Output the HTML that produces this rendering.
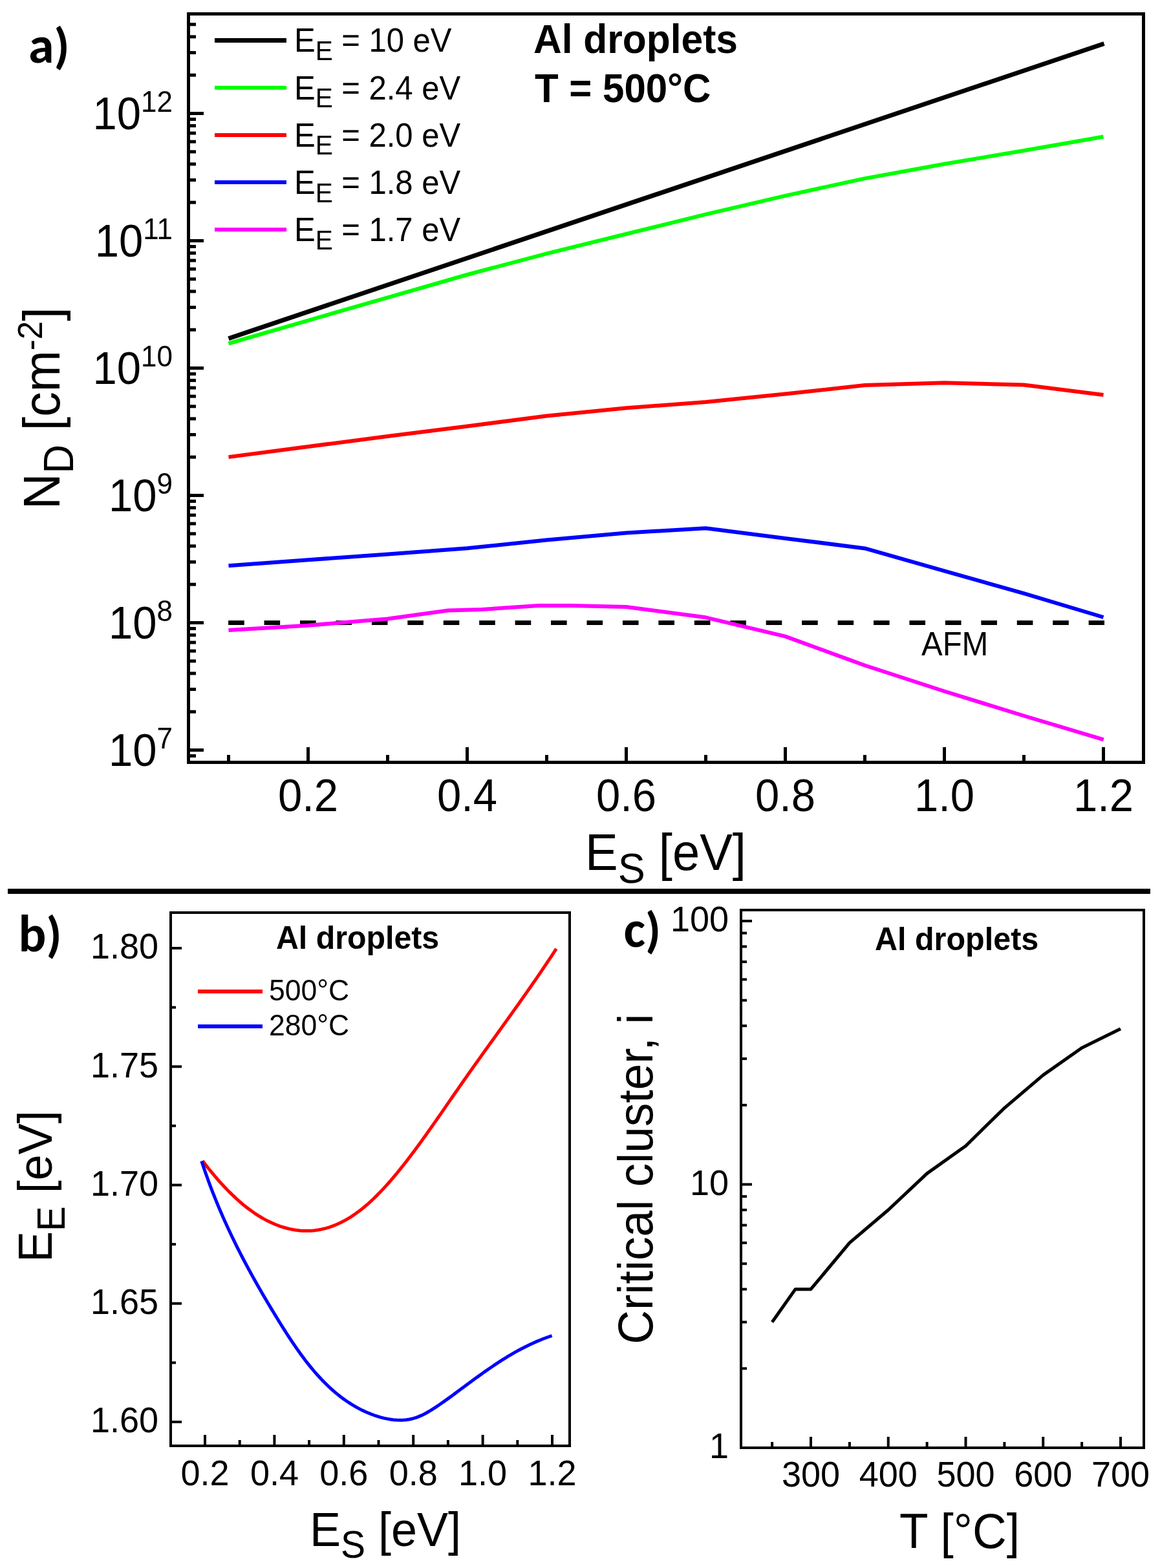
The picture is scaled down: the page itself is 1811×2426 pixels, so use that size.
<!DOCTYPE html>
<html><head><meta charset="utf-8"><title>Al droplets nucleation</title>
<style>html,body{margin:0;padding:0;background:#fff}svg{display:block}</style></head>
<body><svg width="1811" height="2426" viewBox="0 0 1811 2426">
<rect x="0" y="0" width="1811" height="2426" fill="#fff"/>
<rect x="291.5" y="21.5" width="1477.0" height="1158.0" fill="none" stroke="#000" stroke-width="5"/>
<line x1="291.50" y1="1169.51" x2="303.00" y2="1169.51" stroke="#000" stroke-width="5"/>
<line x1="291.50" y1="1160.50" x2="315.00" y2="1160.50" stroke="#000" stroke-width="5"/>
<line x1="291.50" y1="1101.20" x2="303.00" y2="1101.20" stroke="#000" stroke-width="5"/>
<line x1="291.50" y1="1066.51" x2="303.00" y2="1066.51" stroke="#000" stroke-width="5"/>
<line x1="291.50" y1="1041.89" x2="303.00" y2="1041.89" stroke="#000" stroke-width="5"/>
<line x1="291.50" y1="1022.80" x2="303.00" y2="1022.80" stroke="#000" stroke-width="5"/>
<line x1="291.50" y1="1007.20" x2="303.00" y2="1007.20" stroke="#000" stroke-width="5"/>
<line x1="291.50" y1="994.02" x2="303.00" y2="994.02" stroke="#000" stroke-width="5"/>
<line x1="291.50" y1="982.59" x2="303.00" y2="982.59" stroke="#000" stroke-width="5"/>
<line x1="291.50" y1="972.51" x2="303.00" y2="972.51" stroke="#000" stroke-width="5"/>
<line x1="291.50" y1="963.50" x2="315.00" y2="963.50" stroke="#000" stroke-width="5"/>
<line x1="291.50" y1="904.20" x2="303.00" y2="904.20" stroke="#000" stroke-width="5"/>
<line x1="291.50" y1="869.51" x2="303.00" y2="869.51" stroke="#000" stroke-width="5"/>
<line x1="291.50" y1="844.89" x2="303.00" y2="844.89" stroke="#000" stroke-width="5"/>
<line x1="291.50" y1="825.80" x2="303.00" y2="825.80" stroke="#000" stroke-width="5"/>
<line x1="291.50" y1="810.20" x2="303.00" y2="810.20" stroke="#000" stroke-width="5"/>
<line x1="291.50" y1="797.02" x2="303.00" y2="797.02" stroke="#000" stroke-width="5"/>
<line x1="291.50" y1="785.59" x2="303.00" y2="785.59" stroke="#000" stroke-width="5"/>
<line x1="291.50" y1="775.51" x2="303.00" y2="775.51" stroke="#000" stroke-width="5"/>
<line x1="291.50" y1="766.50" x2="315.00" y2="766.50" stroke="#000" stroke-width="5"/>
<line x1="291.50" y1="707.20" x2="303.00" y2="707.20" stroke="#000" stroke-width="5"/>
<line x1="291.50" y1="672.51" x2="303.00" y2="672.51" stroke="#000" stroke-width="5"/>
<line x1="291.50" y1="647.89" x2="303.00" y2="647.89" stroke="#000" stroke-width="5"/>
<line x1="291.50" y1="628.80" x2="303.00" y2="628.80" stroke="#000" stroke-width="5"/>
<line x1="291.50" y1="613.20" x2="303.00" y2="613.20" stroke="#000" stroke-width="5"/>
<line x1="291.50" y1="600.02" x2="303.00" y2="600.02" stroke="#000" stroke-width="5"/>
<line x1="291.50" y1="588.59" x2="303.00" y2="588.59" stroke="#000" stroke-width="5"/>
<line x1="291.50" y1="578.51" x2="303.00" y2="578.51" stroke="#000" stroke-width="5"/>
<line x1="291.50" y1="569.50" x2="315.00" y2="569.50" stroke="#000" stroke-width="5"/>
<line x1="291.50" y1="510.20" x2="303.00" y2="510.20" stroke="#000" stroke-width="5"/>
<line x1="291.50" y1="475.51" x2="303.00" y2="475.51" stroke="#000" stroke-width="5"/>
<line x1="291.50" y1="450.89" x2="303.00" y2="450.89" stroke="#000" stroke-width="5"/>
<line x1="291.50" y1="431.80" x2="303.00" y2="431.80" stroke="#000" stroke-width="5"/>
<line x1="291.50" y1="416.20" x2="303.00" y2="416.20" stroke="#000" stroke-width="5"/>
<line x1="291.50" y1="403.02" x2="303.00" y2="403.02" stroke="#000" stroke-width="5"/>
<line x1="291.50" y1="391.59" x2="303.00" y2="391.59" stroke="#000" stroke-width="5"/>
<line x1="291.50" y1="381.51" x2="303.00" y2="381.51" stroke="#000" stroke-width="5"/>
<line x1="291.50" y1="372.50" x2="315.00" y2="372.50" stroke="#000" stroke-width="5"/>
<line x1="291.50" y1="313.20" x2="303.00" y2="313.20" stroke="#000" stroke-width="5"/>
<line x1="291.50" y1="278.51" x2="303.00" y2="278.51" stroke="#000" stroke-width="5"/>
<line x1="291.50" y1="253.89" x2="303.00" y2="253.89" stroke="#000" stroke-width="5"/>
<line x1="291.50" y1="234.80" x2="303.00" y2="234.80" stroke="#000" stroke-width="5"/>
<line x1="291.50" y1="219.20" x2="303.00" y2="219.20" stroke="#000" stroke-width="5"/>
<line x1="291.50" y1="206.02" x2="303.00" y2="206.02" stroke="#000" stroke-width="5"/>
<line x1="291.50" y1="194.59" x2="303.00" y2="194.59" stroke="#000" stroke-width="5"/>
<line x1="291.50" y1="184.51" x2="303.00" y2="184.51" stroke="#000" stroke-width="5"/>
<line x1="291.50" y1="175.50" x2="315.00" y2="175.50" stroke="#000" stroke-width="5"/>
<line x1="291.50" y1="116.20" x2="303.00" y2="116.20" stroke="#000" stroke-width="5"/>
<line x1="291.50" y1="81.51" x2="303.00" y2="81.51" stroke="#000" stroke-width="5"/>
<line x1="291.50" y1="56.89" x2="303.00" y2="56.89" stroke="#000" stroke-width="5"/>
<line x1="291.50" y1="37.80" x2="303.00" y2="37.80" stroke="#000" stroke-width="5"/>
<line x1="353.50" y1="1179.50" x2="353.50" y2="1168.00" stroke="#000" stroke-width="5"/>
<line x1="476.50" y1="1179.50" x2="476.50" y2="1156.00" stroke="#000" stroke-width="5"/>
<line x1="599.50" y1="1179.50" x2="599.50" y2="1168.00" stroke="#000" stroke-width="5"/>
<line x1="722.50" y1="1179.50" x2="722.50" y2="1156.00" stroke="#000" stroke-width="5"/>
<line x1="845.50" y1="1179.50" x2="845.50" y2="1168.00" stroke="#000" stroke-width="5"/>
<line x1="968.50" y1="1179.50" x2="968.50" y2="1156.00" stroke="#000" stroke-width="5"/>
<line x1="1091.50" y1="1179.50" x2="1091.50" y2="1168.00" stroke="#000" stroke-width="5"/>
<line x1="1214.50" y1="1179.50" x2="1214.50" y2="1156.00" stroke="#000" stroke-width="5"/>
<line x1="1337.50" y1="1179.50" x2="1337.50" y2="1168.00" stroke="#000" stroke-width="5"/>
<line x1="1460.50" y1="1179.50" x2="1460.50" y2="1156.00" stroke="#000" stroke-width="5"/>
<line x1="1583.50" y1="1179.50" x2="1583.50" y2="1168.00" stroke="#000" stroke-width="5"/>
<line x1="1706.50" y1="1179.50" x2="1706.50" y2="1156.00" stroke="#000" stroke-width="5"/>
<text transform="translate(476.50,1255.00) scale(1,1.04)" font-family='"Liberation Sans", Arial, Helvetica, sans-serif' font-size="67" text-anchor="middle">0.2</text>
<text transform="translate(722.50,1255.00) scale(1,1.04)" font-family='"Liberation Sans", Arial, Helvetica, sans-serif' font-size="67" text-anchor="middle">0.4</text>
<text transform="translate(968.50,1255.00) scale(1,1.04)" font-family='"Liberation Sans", Arial, Helvetica, sans-serif' font-size="67" text-anchor="middle">0.6</text>
<text transform="translate(1214.50,1255.00) scale(1,1.04)" font-family='"Liberation Sans", Arial, Helvetica, sans-serif' font-size="67" text-anchor="middle">0.8</text>
<text transform="translate(1460.50,1255.00) scale(1,1.04)" font-family='"Liberation Sans", Arial, Helvetica, sans-serif' font-size="67" text-anchor="middle">1.0</text>
<text transform="translate(1706.50,1255.00) scale(1,1.04)" font-family='"Liberation Sans", Arial, Helvetica, sans-serif' font-size="67" text-anchor="middle">1.2</text>
<text transform="translate(267.00,1184.70) scale(1,1.04)" font-family='"Liberation Sans", Arial, Helvetica, sans-serif' font-size="67" text-anchor="end">10<tspan dy="-25.96" font-size="44">7</tspan></text>
<text transform="translate(267.00,987.70) scale(1,1.04)" font-family='"Liberation Sans", Arial, Helvetica, sans-serif' font-size="67" text-anchor="end">10<tspan dy="-25.96" font-size="44">8</tspan></text>
<text transform="translate(267.00,790.70) scale(1,1.04)" font-family='"Liberation Sans", Arial, Helvetica, sans-serif' font-size="67" text-anchor="end">10<tspan dy="-25.96" font-size="44">9</tspan></text>
<text transform="translate(267.00,593.70) scale(1,1.04)" font-family='"Liberation Sans", Arial, Helvetica, sans-serif' font-size="67" text-anchor="end">10<tspan dy="-25.96" font-size="44">10</tspan></text>
<text transform="translate(267.00,396.70) scale(1,1.04)" font-family='"Liberation Sans", Arial, Helvetica, sans-serif' font-size="67" text-anchor="end">10<tspan dy="-25.96" font-size="44">11</tspan></text>
<text transform="translate(267.00,199.70) scale(1,1.04)" font-family='"Liberation Sans", Arial, Helvetica, sans-serif' font-size="67" text-anchor="end">10<tspan dy="-25.96" font-size="44">12</tspan></text>
<text transform="translate(905.00,1346.00) scale(1,1.04)" font-family='"Liberation Sans", Arial, Helvetica, sans-serif' font-size="76">E<tspan dy="19.23" font-size="63">S</tspan><tspan dy="-19.23"> [eV]</tspan></text>
<text transform="translate(91.90,788.00) rotate(-90) scale(1,1.04)" font-family='"Liberation Sans", Arial, Helvetica, sans-serif' font-size="77">N<tspan dy="20.19" font-size="62">D</tspan><tspan dy="-20.19"> [cm</tspan><tspan dy="-25.96" font-size="51">-2</tspan><tspan dy="25.96">]</tspan></text>
<text transform="translate(44.00,97.00)" font-family='Carlito, "Liberation Sans", sans-serif' font-size="80" font-weight="bold">a<tspan font-size="77">)</tspan></text>
<text transform="translate(825.00,82.00) scale(1,1.04)" font-family='"Liberation Sans", Arial, Helvetica, sans-serif' font-size="60.5" font-weight="bold">Al droplets</text>
<text transform="translate(827.00,158.00) scale(1,1.04)" font-family='"Liberation Sans", Arial, Helvetica, sans-serif' font-size="60" font-weight="bold">T = 500°C</text>
<line x1="332.00" y1="62.50" x2="443.00" y2="62.50" stroke="#000" stroke-width="7"/>
<text transform="translate(455.00,80.40) scale(1,1.04)" font-family='"Liberation Sans", Arial, Helvetica, sans-serif' font-size="49">E<tspan dy="12.12" font-size="40.5">E</tspan><tspan dy="-12.12"> = 10 eV</tspan></text>
<line x1="332.00" y1="135.70" x2="443.00" y2="135.70" stroke="#00ff00" stroke-width="6"/>
<text transform="translate(455.00,153.60) scale(1,1.04)" font-family='"Liberation Sans", Arial, Helvetica, sans-serif' font-size="49">E<tspan dy="12.12" font-size="40.5">E</tspan><tspan dy="-12.12"> = 2.4 eV</tspan></text>
<line x1="332.00" y1="208.90" x2="443.00" y2="208.90" stroke="#ff0000" stroke-width="6"/>
<text transform="translate(455.00,226.80) scale(1,1.04)" font-family='"Liberation Sans", Arial, Helvetica, sans-serif' font-size="49">E<tspan dy="12.12" font-size="40.5">E</tspan><tspan dy="-12.12"> = 2.0 eV</tspan></text>
<line x1="332.00" y1="282.10" x2="443.00" y2="282.10" stroke="#0000ff" stroke-width="6"/>
<text transform="translate(455.00,300.00) scale(1,1.04)" font-family='"Liberation Sans", Arial, Helvetica, sans-serif' font-size="49">E<tspan dy="12.12" font-size="40.5">E</tspan><tspan dy="-12.12"> = 1.8 eV</tspan></text>
<line x1="332.00" y1="355.30" x2="443.00" y2="355.30" stroke="#ff00ff" stroke-width="6"/>
<text transform="translate(455.00,373.20) scale(1,1.04)" font-family='"Liberation Sans", Arial, Helvetica, sans-serif' font-size="49">E<tspan dy="12.12" font-size="40.5">E</tspan><tspan dy="-12.12"> = 1.7 eV</tspan></text>
<line x1="353.10" y1="963.50" x2="1708.00" y2="963.50" stroke="#000" stroke-width="7" stroke-dasharray="24.6 30.84"/>
<text transform="translate(1425.00,1014.00) scale(1,1.04)" font-family='"Liberation Sans", Arial, Helvetica, sans-serif' font-size="49">AFM</text>
<polyline points="353.50,523.70 1707.50,67.50" fill="none" stroke="#000" stroke-width="7" stroke-linejoin="round" stroke-linecap="butt"/>
<polyline points="353.50,531.50 476.50,495.80 599.50,460.30 722.50,425.00 845.50,392.30 968.50,362.00 1091.50,331.70 1214.50,302.80 1337.50,276.10 1460.50,253.70 1583.50,233.00 1706.50,211.50" fill="none" stroke="#00ff00" stroke-width="6" stroke-linejoin="round"/>
<polyline points="353.50,707.10 476.50,691.00 599.50,675.00 722.50,659.50 845.50,643.50 968.50,631.30 1091.50,622.00 1214.50,609.60 1337.50,596.00 1460.50,592.30 1583.50,595.50 1706.50,611.00" fill="none" stroke="#ff0000" stroke-width="6" stroke-linejoin="round"/>
<polyline points="353.50,875.20 476.50,866.30 599.50,857.40 722.50,848.30 845.50,835.50 968.50,824.40 1091.50,817.30 1214.50,832.90 1337.50,848.40 1460.50,883.30 1583.50,918.20 1706.50,955.00" fill="none" stroke="#0000ff" stroke-width="6" stroke-linejoin="round"/>
<polyline points="353.50,975.00 475.70,967.70 599.20,957.50 693.00,944.50 745.00,943.00 833.00,937.10 883.50,937.10 968.50,939.00 1091.50,955.30 1214.50,984.60 1337.50,1029.50 1460.50,1069.50 1583.50,1107.50 1706.80,1144.30" fill="none" stroke="#ff00ff" stroke-width="6" stroke-linejoin="round"/>
<rect x="12" y="1375" width="1767" height="8" fill="#000"/>
<rect x="264" y="1412" width="617" height="825" fill="none" stroke="#000" stroke-width="4"/>
<line x1="264.00" y1="2200.00" x2="281.00" y2="2200.00" stroke="#000" stroke-width="4"/>
<line x1="264.00" y1="2108.38" x2="272.00" y2="2108.38" stroke="#000" stroke-width="4"/>
<line x1="264.00" y1="2016.75" x2="281.00" y2="2016.75" stroke="#000" stroke-width="4"/>
<line x1="264.00" y1="1925.12" x2="272.00" y2="1925.12" stroke="#000" stroke-width="4"/>
<line x1="264.00" y1="1833.50" x2="281.00" y2="1833.50" stroke="#000" stroke-width="4"/>
<line x1="264.00" y1="1741.87" x2="272.00" y2="1741.87" stroke="#000" stroke-width="4"/>
<line x1="264.00" y1="1650.25" x2="281.00" y2="1650.25" stroke="#000" stroke-width="4"/>
<line x1="264.00" y1="1558.62" x2="272.00" y2="1558.62" stroke="#000" stroke-width="4"/>
<line x1="264.00" y1="1467.00" x2="281.00" y2="1467.00" stroke="#000" stroke-width="4"/>
<line x1="317.00" y1="2237.00" x2="317.00" y2="2220.00" stroke="#000" stroke-width="4"/>
<line x1="370.70" y1="2237.00" x2="370.70" y2="2228.00" stroke="#000" stroke-width="4"/>
<line x1="424.40" y1="2237.00" x2="424.40" y2="2220.00" stroke="#000" stroke-width="4"/>
<line x1="478.10" y1="2237.00" x2="478.10" y2="2228.00" stroke="#000" stroke-width="4"/>
<line x1="531.80" y1="2237.00" x2="531.80" y2="2220.00" stroke="#000" stroke-width="4"/>
<line x1="585.50" y1="2237.00" x2="585.50" y2="2228.00" stroke="#000" stroke-width="4"/>
<line x1="639.20" y1="2237.00" x2="639.20" y2="2220.00" stroke="#000" stroke-width="4"/>
<line x1="692.90" y1="2237.00" x2="692.90" y2="2228.00" stroke="#000" stroke-width="4"/>
<line x1="746.60" y1="2237.00" x2="746.60" y2="2220.00" stroke="#000" stroke-width="4"/>
<line x1="800.30" y1="2237.00" x2="800.30" y2="2228.00" stroke="#000" stroke-width="4"/>
<line x1="854.00" y1="2237.00" x2="854.00" y2="2220.00" stroke="#000" stroke-width="4"/>
<text transform="translate(317.00,2298.00) scale(1,1.04)" font-family='"Liberation Sans", Arial, Helvetica, sans-serif' font-size="54" text-anchor="middle">0.2</text>
<text transform="translate(424.40,2298.00) scale(1,1.04)" font-family='"Liberation Sans", Arial, Helvetica, sans-serif' font-size="54" text-anchor="middle">0.4</text>
<text transform="translate(531.80,2298.00) scale(1,1.04)" font-family='"Liberation Sans", Arial, Helvetica, sans-serif' font-size="54" text-anchor="middle">0.6</text>
<text transform="translate(639.20,2298.00) scale(1,1.04)" font-family='"Liberation Sans", Arial, Helvetica, sans-serif' font-size="54" text-anchor="middle">0.8</text>
<text transform="translate(746.60,2298.00) scale(1,1.04)" font-family='"Liberation Sans", Arial, Helvetica, sans-serif' font-size="54" text-anchor="middle">1.0</text>
<text transform="translate(854.00,2298.00) scale(1,1.04)" font-family='"Liberation Sans", Arial, Helvetica, sans-serif' font-size="54" text-anchor="middle">1.2</text>
<text transform="translate(245.00,2216.30) scale(1,1.04)" font-family='"Liberation Sans", Arial, Helvetica, sans-serif' font-size="54" text-anchor="end">1.60</text>
<text transform="translate(245.00,2033.05) scale(1,1.04)" font-family='"Liberation Sans", Arial, Helvetica, sans-serif' font-size="54" text-anchor="end">1.65</text>
<text transform="translate(245.00,1849.80) scale(1,1.04)" font-family='"Liberation Sans", Arial, Helvetica, sans-serif' font-size="54" text-anchor="end">1.70</text>
<text transform="translate(245.00,1666.55) scale(1,1.04)" font-family='"Liberation Sans", Arial, Helvetica, sans-serif' font-size="54" text-anchor="end">1.75</text>
<text transform="translate(245.00,1483.30) scale(1,1.04)" font-family='"Liberation Sans", Arial, Helvetica, sans-serif' font-size="54" text-anchor="end">1.80</text>
<text transform="translate(28.50,1472.00)" font-family='Carlito, "Liberation Sans", sans-serif' font-size="80" font-weight="bold">b<tspan font-size="77">)</tspan></text>
<text transform="translate(427.00,1467.50) scale(1,1.04)" font-family='"Liberation Sans", Arial, Helvetica, sans-serif' font-size="48.3" font-weight="bold">Al droplets</text>
<line x1="306.00" y1="1534.00" x2="406.00" y2="1534.00" stroke="#ff0000" stroke-width="6"/>
<line x1="306.00" y1="1588.00" x2="406.00" y2="1588.00" stroke="#0000ff" stroke-width="6"/>
<text transform="translate(416.00,1548.00) scale(1,1.04)" font-family='"Liberation Sans", Arial, Helvetica, sans-serif' font-size="44.5">500°C</text>
<text transform="translate(416.00,1602.00) scale(1,1.04)" font-family='"Liberation Sans", Arial, Helvetica, sans-serif' font-size="44.5">280°C</text>
<text transform="translate(479.00,2392.00) scale(1,1.04)" font-family='"Liberation Sans", Arial, Helvetica, sans-serif' font-size="72">E<tspan dy="17.31" font-size="57">S</tspan><tspan dy="-17.31"> [eV]</tspan></text>
<text transform="translate(80.20,1953.00) rotate(-90) scale(1,1.04)" font-family='"Liberation Sans", Arial, Helvetica, sans-serif' font-size="72">E<tspan dy="19.23" font-size="58">E</tspan><tspan dy="-19.23"> [eV]</tspan></text>
<polyline points="313.20,1796.04 315.95,1799.61 318.70,1803.14 321.45,1806.61 324.20,1810.02 326.95,1813.38 329.70,1816.69 332.44,1819.94 335.19,1823.14 337.94,1826.28 340.69,1829.36 343.44,1832.39 346.19,1835.36 348.94,1838.27 351.69,1841.12 354.44,1843.91 357.19,1846.64 359.94,1849.31 362.69,1851.93 365.44,1854.48 368.18,1856.96 370.93,1859.39 373.68,1861.75 376.43,1864.05 379.18,1866.29 381.93,1868.46 384.68,1870.57 387.43,1872.61 390.18,1874.59 392.93,1876.50 395.68,1878.35 398.43,1880.13 401.18,1881.85 403.93,1883.51 406.67,1885.10 409.42,1886.62 412.17,1888.09 414.92,1889.49 417.67,1890.83 420.42,1892.10 423.17,1893.31 425.92,1894.46 428.67,1895.54 431.42,1896.57 434.17,1897.53 436.92,1898.42 439.67,1899.26 442.41,1900.03 445.16,1900.74 447.91,1901.39 450.66,1901.97 453.41,1902.50 456.16,1902.95 458.91,1903.35 461.66,1903.67 464.41,1903.94 467.16,1904.14 469.91,1904.27 472.66,1904.34 475.41,1904.34 478.15,1904.27 480.90,1904.14 483.65,1903.94 486.40,1903.67 489.15,1903.33 491.90,1902.93 494.65,1902.45 497.40,1901.91 500.15,1901.29 502.90,1900.61 505.65,1899.86 508.40,1899.03 511.15,1898.14 513.89,1897.17 516.64,1896.13 519.39,1895.02 522.14,1893.84 524.89,1892.58 527.64,1891.25 530.39,1889.85 533.14,1888.38 535.89,1886.84 538.64,1885.22 541.39,1883.53 544.14,1881.78 546.89,1879.95 549.64,1878.05 552.38,1876.08 555.13,1874.04 557.88,1871.93 560.63,1869.76 563.38,1867.51 566.13,1865.19 568.88,1862.80 571.63,1860.35 574.38,1857.83 577.13,1855.24 579.88,1852.59 582.63,1849.88 585.38,1847.10 588.12,1844.27 590.87,1841.38 593.62,1838.43 596.37,1835.43 599.12,1832.37 601.87,1829.27 604.62,1826.11 607.37,1822.90 610.12,1819.65 612.87,1816.35 615.62,1813.00 618.37,1809.61 621.12,1806.19 623.86,1802.72 626.61,1799.21 629.36,1795.67 632.11,1792.09 634.86,1788.47 637.61,1784.83 640.36,1781.15 643.11,1777.45 645.86,1773.71 648.61,1769.95 651.36,1766.17 654.11,1762.36 656.86,1758.53 659.61,1754.68 662.35,1750.81 665.10,1746.92 667.85,1743.02 670.60,1739.10 673.35,1735.17 676.10,1731.23 678.85,1727.28 681.60,1723.32 684.35,1719.35 687.10,1715.38 689.85,1711.41 692.60,1707.43 695.35,1703.45 698.09,1699.47 700.84,1695.50 703.59,1691.52 706.34,1687.56 709.09,1683.59 711.84,1679.64 714.59,1675.70 717.34,1671.77 720.09,1667.85 722.84,1663.94 725.59,1660.04 728.34,1656.15 731.09,1652.27 733.83,1648.40 736.58,1644.54 739.33,1640.68 742.08,1636.83 744.83,1632.99 747.58,1629.15 750.33,1625.31 753.08,1621.48 755.83,1617.66 758.58,1613.83 761.33,1610.01 764.08,1606.19 766.83,1602.37 769.57,1598.54 772.32,1594.72 775.07,1590.90 777.82,1587.07 780.57,1583.24 783.32,1579.41 786.07,1575.57 788.82,1571.73 791.57,1567.88 794.32,1564.03 797.07,1560.17 799.82,1556.30 802.57,1552.43 805.32,1548.54 808.06,1544.65 810.81,1540.75 813.56,1536.83 816.31,1532.90 819.06,1528.97 821.81,1525.01 824.56,1521.05 827.31,1517.07 830.06,1513.08 832.81,1509.07 835.56,1505.04 838.31,1501.00 841.06,1496.94 843.80,1492.86 846.55,1488.76 849.30,1484.65 852.05,1480.51 854.80,1476.35 857.55,1472.17 860.30,1467.97" fill="none" stroke="#ff0000" stroke-width="5" stroke-linejoin="round"/>
<polyline points="311.76,1796.52 313.39,1801.46 315.03,1806.36 316.71,1811.25 318.40,1816.11 320.12,1820.94 321.85,1825.76 323.61,1830.55 325.39,1835.31 327.20,1840.06 329.02,1844.78 330.87,1849.49 332.73,1854.17 334.62,1858.83 336.53,1863.48 338.46,1868.10 340.41,1872.71 342.39,1877.31 344.38,1881.88 346.39,1886.44 348.43,1890.98 350.48,1895.51 352.56,1900.03 354.65,1904.53 356.77,1909.01 358.90,1913.49 361.05,1917.95 363.23,1922.40 365.42,1926.84 367.64,1931.27 369.87,1935.69 372.12,1940.10 374.39,1944.50 376.68,1948.89 378.99,1953.28 381.32,1957.66 383.66,1962.03 386.03,1966.40 388.41,1970.76 390.81,1975.11 393.23,1979.46 395.67,1983.81 398.13,1988.16 400.60,1992.50 403.09,1996.84 405.60,2001.18 408.13,2005.52 410.67,2009.85 413.24,2014.19 415.82,2018.53 418.41,2022.87 421.03,2027.21 423.66,2031.56 426.30,2035.91 428.97,2040.26 431.65,2044.61 434.35,2048.97 437.07,2053.32 439.81,2057.66 442.57,2061.99 445.36,2066.32 448.18,2070.62 451.02,2074.91 453.89,2079.18 456.80,2083.42 459.73,2087.63 462.70,2091.82 465.70,2095.97 468.73,2100.08 471.81,2104.15 474.92,2108.19 478.08,2112.17 481.28,2116.11 484.52,2119.99 487.80,2123.82 491.13,2127.59 494.51,2131.30 497.94,2134.95 501.42,2138.53 504.95,2142.04 508.53,2145.47 512.17,2148.83 515.86,2152.12 519.62,2155.31 523.43,2158.43 527.30,2161.45 531.24,2164.39 535.24,2167.23 539.30,2169.97 543.43,2172.61 547.63,2175.15 551.90,2177.58 556.24,2179.91 560.65,2182.12 565.14,2184.21 569.70,2186.19 574.33,2188.05 579.05,2189.77 583.83,2191.37 588.68,2192.81 593.57,2194.08 598.50,2195.16 603.46,2196.03 608.43,2196.68 613.40,2197.10 618.35,2197.25 623.29,2197.13 628.19,2196.72 633.05,2196.00 637.84,2194.96 642.57,2193.57 647.24,2191.88 651.83,2189.90 656.37,2187.68 660.85,2185.26 665.28,2182.67 669.65,2179.94 673.98,2177.12 678.26,2174.23 682.50,2171.31 686.71,2168.36 690.88,2165.39 695.03,2162.40 699.15,2159.40 703.24,2156.38 707.33,2153.36 711.40,2150.34 715.46,2147.32 719.52,2144.30 723.58,2141.29 727.64,2138.29 731.70,2135.30 735.76,2132.33 739.83,2129.38 743.91,2126.44 748.00,2123.53 752.10,2120.64 756.21,2117.78 760.33,2114.95 764.47,2112.15 768.64,2109.39 772.82,2106.66 777.02,2103.97 781.25,2101.32 785.50,2098.72 789.78,2096.16 794.09,2093.66 798.43,2091.20 802.80,2088.80 807.21,2086.45 811.65,2084.16 816.13,2081.93 820.66,2079.77 825.22,2077.67 829.83,2075.64 834.49,2073.68 839.19,2071.79 843.94,2069.98 848.74,2068.24 853.59,2066.59" fill="none" stroke="#0000ff" stroke-width="5" stroke-linejoin="round"/>
<rect x="1146" y="1408" width="623" height="832" fill="none" stroke="#000" stroke-width="4"/>
<line x1="1146.00" y1="2240.00" x2="1163.00" y2="2240.00" stroke="#000" stroke-width="4"/>
<line x1="1146.00" y1="2117.33" x2="1155.00" y2="2117.33" stroke="#000" stroke-width="4"/>
<line x1="1146.00" y1="2045.57" x2="1155.00" y2="2045.57" stroke="#000" stroke-width="4"/>
<line x1="1146.00" y1="1994.66" x2="1155.00" y2="1994.66" stroke="#000" stroke-width="4"/>
<line x1="1146.00" y1="1955.17" x2="1155.00" y2="1955.17" stroke="#000" stroke-width="4"/>
<line x1="1146.00" y1="1922.90" x2="1155.00" y2="1922.90" stroke="#000" stroke-width="4"/>
<line x1="1146.00" y1="1895.62" x2="1155.00" y2="1895.62" stroke="#000" stroke-width="4"/>
<line x1="1146.00" y1="1871.99" x2="1155.00" y2="1871.99" stroke="#000" stroke-width="4"/>
<line x1="1146.00" y1="1851.15" x2="1155.00" y2="1851.15" stroke="#000" stroke-width="4"/>
<line x1="1146.00" y1="1832.50" x2="1163.00" y2="1832.50" stroke="#000" stroke-width="4"/>
<line x1="1146.00" y1="1709.83" x2="1155.00" y2="1709.83" stroke="#000" stroke-width="4"/>
<line x1="1146.00" y1="1638.07" x2="1155.00" y2="1638.07" stroke="#000" stroke-width="4"/>
<line x1="1146.00" y1="1587.16" x2="1155.00" y2="1587.16" stroke="#000" stroke-width="4"/>
<line x1="1146.00" y1="1547.67" x2="1155.00" y2="1547.67" stroke="#000" stroke-width="4"/>
<line x1="1146.00" y1="1515.40" x2="1155.00" y2="1515.40" stroke="#000" stroke-width="4"/>
<line x1="1146.00" y1="1488.12" x2="1155.00" y2="1488.12" stroke="#000" stroke-width="4"/>
<line x1="1146.00" y1="1464.49" x2="1155.00" y2="1464.49" stroke="#000" stroke-width="4"/>
<line x1="1146.00" y1="1443.65" x2="1155.00" y2="1443.65" stroke="#000" stroke-width="4"/>
<line x1="1146.00" y1="1425.00" x2="1163.00" y2="1425.00" stroke="#000" stroke-width="4"/>
<line x1="1194.12" y1="2240.00" x2="1194.12" y2="2231.00" stroke="#000" stroke-width="4"/>
<line x1="1254.00" y1="2240.00" x2="1254.00" y2="2223.00" stroke="#000" stroke-width="4"/>
<line x1="1313.88" y1="2240.00" x2="1313.88" y2="2231.00" stroke="#000" stroke-width="4"/>
<line x1="1373.75" y1="2240.00" x2="1373.75" y2="2223.00" stroke="#000" stroke-width="4"/>
<line x1="1433.62" y1="2240.00" x2="1433.62" y2="2231.00" stroke="#000" stroke-width="4"/>
<line x1="1493.50" y1="2240.00" x2="1493.50" y2="2223.00" stroke="#000" stroke-width="4"/>
<line x1="1553.38" y1="2240.00" x2="1553.38" y2="2231.00" stroke="#000" stroke-width="4"/>
<line x1="1613.25" y1="2240.00" x2="1613.25" y2="2223.00" stroke="#000" stroke-width="4"/>
<line x1="1673.12" y1="2240.00" x2="1673.12" y2="2231.00" stroke="#000" stroke-width="4"/>
<line x1="1733.00" y1="2240.00" x2="1733.00" y2="2223.00" stroke="#000" stroke-width="4"/>
<text transform="translate(1254.00,2300.00) scale(1,1.04)" font-family='"Liberation Sans", Arial, Helvetica, sans-serif' font-size="54" text-anchor="middle">300</text>
<text transform="translate(1373.75,2300.00) scale(1,1.04)" font-family='"Liberation Sans", Arial, Helvetica, sans-serif' font-size="54" text-anchor="middle">400</text>
<text transform="translate(1493.50,2300.00) scale(1,1.04)" font-family='"Liberation Sans", Arial, Helvetica, sans-serif' font-size="54" text-anchor="middle">500</text>
<text transform="translate(1613.25,2300.00) scale(1,1.04)" font-family='"Liberation Sans", Arial, Helvetica, sans-serif' font-size="54" text-anchor="middle">600</text>
<text transform="translate(1733.00,2300.00) scale(1,1.04)" font-family='"Liberation Sans", Arial, Helvetica, sans-serif' font-size="54" text-anchor="middle">700</text>
<text transform="translate(1127.00,1440.70) scale(1,1.04)" font-family='"Liberation Sans", Arial, Helvetica, sans-serif' font-size="54" text-anchor="end">100</text>
<text transform="translate(1127.00,1849.00) scale(1,1.04)" font-family='"Liberation Sans", Arial, Helvetica, sans-serif' font-size="54" text-anchor="end">10</text>
<text transform="translate(1127.00,2255.50) scale(1,1.04)" font-family='"Liberation Sans", Arial, Helvetica, sans-serif' font-size="54" text-anchor="end">1</text>
<text transform="translate(964.50,1465.00)" font-family='Carlito, "Liberation Sans", sans-serif' font-size="80" font-weight="bold">c<tspan font-size="77">)</tspan></text>
<text transform="translate(1353.00,1470.00) scale(1,1.04)" font-family='"Liberation Sans", Arial, Helvetica, sans-serif' font-size="48.5" font-weight="bold">Al droplets</text>
<text transform="translate(1391.00,2395.00) scale(1,1.04)" font-family='"Liberation Sans", Arial, Helvetica, sans-serif' font-size="73">T [°C]</text>
<text transform="translate(1009.30,2079.70) rotate(-90) scale(1,1.04)" font-family='"Liberation Sans", Arial, Helvetica, sans-serif' font-size="73">Critical cluster, i</text>
<polyline points="1194.12,2045.57 1230.05,1994.66 1254.00,1994.66 1313.88,1922.90 1373.75,1871.99 1433.62,1815.63 1493.50,1772.95 1553.38,1714.31 1613.25,1663.40 1673.12,1621.21 1733.00,1591.64" fill="none" stroke="#000" stroke-width="5" stroke-linejoin="round"/>
</svg></body></html>
